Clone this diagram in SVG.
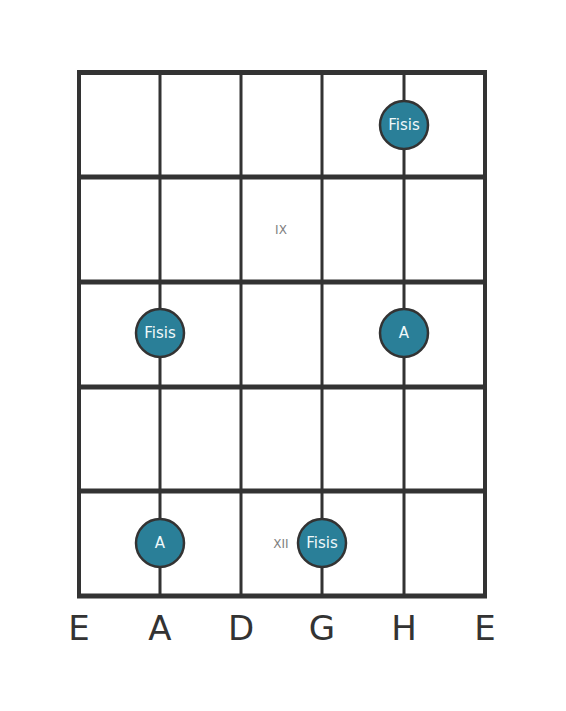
<svg xmlns="http://www.w3.org/2000/svg" width="566" height="711" viewBox="0 0 566 711">
<style>
.fret{stroke:#333;stroke-width:5;}
.str{stroke:#333;stroke-width:3;}
.dot{fill:#2a7f98;stroke:#333;stroke-width:2.5;}
.nt{font-family:"DejaVu Sans",sans-serif;font-size:15px;fill:#f0f8fa;text-anchor:middle;dominant-baseline:central;}
.fn{font-family:"DejaVu Sans",sans-serif;font-size:12px;fill:#808080;text-anchor:middle;dominant-baseline:central;}
.sn{font-family:"DejaVu Sans",sans-serif;font-size:34px;fill:#333;text-anchor:middle;}
</style>
<rect width="566" height="711" fill="#fff"/>
<g id="connectors">
<line class="str" x1="79" y1="72" x2="79" y2="596" style="stroke-width:4"/>
<line class="str" x1="160" y1="72" x2="160" y2="596"/>
<line class="str" x1="241" y1="72" x2="241" y2="596"/>
<line class="str" x1="322" y1="72" x2="322" y2="596"/>
<line class="str" x1="404" y1="72" x2="404" y2="596"/>
<line class="str" x1="485" y1="72" x2="485" y2="596" style="stroke-width:4"/>
<line class="fret" x1="77" y1="72.5" x2="487" y2="72.5"/>
<line class="fret" x1="77" y1="177" x2="487" y2="177"/>
<line class="fret" x1="77" y1="282" x2="487" y2="282"/>
<line class="fret" x1="77" y1="387" x2="487" y2="387"/>
<line class="fret" x1="77" y1="491" x2="487" y2="491"/>
<line class="fret" x1="77" y1="596" x2="487" y2="596"/>
</g>
<g id="fret-labels">
<text class="fn" x="281" y="230">IX</text>
<text class="fn" x="281" y="544">XII</text>
</g>
<g id="n1"><circle class="dot" cx="404" cy="125" r="24"/><text class="nt" x="404" y="125">Fisis</text></g>
<g id="n2"><circle class="dot" cx="160" cy="333" r="24"/><text class="nt" x="160" y="333">Fisis</text></g>
<g id="n3"><circle class="dot" cx="404" cy="333" r="24"/><text class="nt" x="404" y="333">A</text></g>
<g id="n4"><circle class="dot" cx="160" cy="543" r="24"/><text class="nt" x="160" y="543">A</text></g>
<g id="n5"><circle class="dot" cx="322" cy="543" r="24"/><text class="nt" x="322" y="543">Fisis</text></g>
<g id="strings">
<text class="sn" x="79" y="640">E</text>
<text class="sn" x="160" y="640">A</text>
<text class="sn" x="241" y="640">D</text>
<text class="sn" x="322" y="640">G</text>
<text class="sn" x="404" y="640">H</text>
<text class="sn" x="485" y="640">E</text>
</g>
</svg>
